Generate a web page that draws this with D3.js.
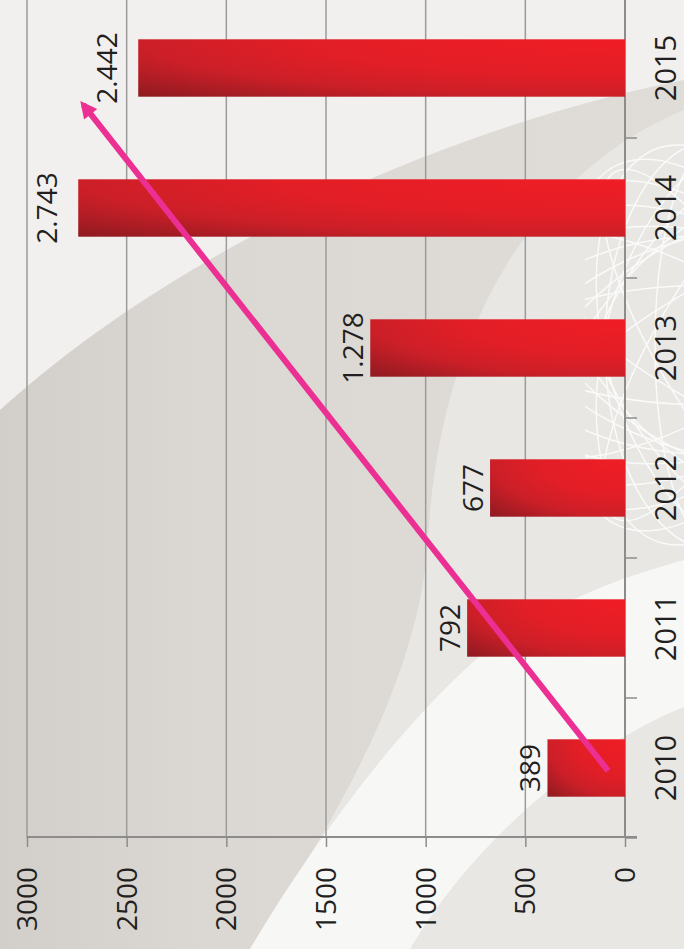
<!DOCTYPE html>
<html>
<head>
<meta charset="utf-8">
<script src="https://cdn.jsdelivr.net/npm/d3@7"></script>
<style>
  html, body { margin: 0; padding: 0; background: #e8e6e3; }
  svg { display: block; }
  text { font-family: "Open Sans", sans-serif; fill: #231f20; }
</style>
</head>
<body>
<div id="chart"></div>
<script>
// data
const years = ['2010', '2011', '2012', '2013', '2014', '2015'];
const values = [389, 792, 677, 1278, 2743, 2442];
const valueLabels = ['389', '792', '677', '1.278', '2.743', '2.442'];
const valueTicks = [0, 500, 1000, 1500, 2000, 2500, 3000];
// trend arrow in data units: [category position (0 = 2010), value]
const trendArrow = [[-0.02, 85], [4.736, 2717]];

const width = 684, height = 949;

const svg = d3.select('#chart').append('svg')
  .attr('width', width).attr('height', height);

const defs = svg.append('defs');

// bar gradient: bright top-right, dark bottom-left
const rg = defs.append('radialGradient')
  .attr('id', 'barGrad')
  .attr('cx', 1).attr('cy', 0).attr('r', 1.42)
  .attr('fx', 1).attr('fy', 0);
rg.append('stop').attr('offset', 0).attr('stop-color', '#f01d25');
rg.append('stop').attr('offset', 0.45).attr('stop-color', '#e21e26');
rg.append('stop').attr('offset', 0.7).attr('stop-color', '#cc1f28');
rg.append('stop').attr('offset', 1).attr('stop-color', '#8c1a20');

const lg = defs.append('linearGradient').attr('id', 'greyGrad')
  .attr('x1', 0).attr('y1', 0).attr('x2', 1).attr('y2', 0);
lg.append('stop').attr('offset', 0).attr('stop-color', '#d2cfcb');
lg.append('stop').attr('offset', 0.3).attr('stop-color', '#dbd8d4');
lg.append('stop').attr('offset', 1).attr('stop-color', '#e0ddd9');

defs.append('clipPath').attr('id', 'globeClip')
  .append('rect').attr('x', 585).attr('y', 130).attr('width', 100).attr('height', 450);

// background decoration
const bg = svg.append('g');
bg.append('rect').attr('width', width).attr('height', height).attr('fill', '#e8e7e4');
bg.append('path')
  .attr('d', 'M0,0 H684 V80 C480,120 200,230 0,410 Z')
  .attr('fill', '#f2f0ee');
bg.append('path')
  .attr('d', 'M0,410 C200,230 480,120 684,80 V110 C540,170 440,320 428,540 C420,680 330,830 250,949 H0 Z')
  .attr('fill', 'url(#greyGrad)');
bg.append('path')
  .attr('d', 'M250,949 C320,830 420,700 500,640 C570,595 630,575 684,560 V707 C600,740 480,830 410,949 Z')
  .attr('fill', '#f7f7f6');

const globe = bg.append('g').attr('clip-path', 'url(#globeClip)')
  .attr('fill', 'none').attr('stroke', '#ffffff').attr('stroke-width', 1.5).attr('opacity', 0.8);
d3.range(0, 180, 15).forEach(a => {
  globe.append('ellipse')
    .attr('cx', 715).attr('cy', 345).attr('rx', 110).attr('ry', 205)
    .attr('transform', `rotate(${a - 90},715,345)`);
});
d3.range(0, 180, 30).forEach(a => {
  globe.append('ellipse')
    .attr('cx', 715).attr('cy', 345).attr('rx', 60).attr('ry', 200)
    .attr('transform', `rotate(${a},715,345)`);
});

// scales
const x = d3.scaleLinear().domain([0, 3000]).range([625, 27]);
const y = d3.scaleBand().domain(years.slice().reverse())
  .range([-2, 838]).paddingInner(0.59).paddingOuter(0.295);
const yPos = d3.scaleLinear().domain([0, 5])
  .range([y('2010') + y.bandwidth() / 2, y('2015') + y.bandwidth() / 2]);

const data = years.map((yr, i) => ({ year: yr, value: values[i], label: valueLabels[i] }));

// gridlines
svg.append('g')
  .selectAll('line')
  .data(valueTicks.filter(d => d > 0))
  .join('line')
  .attr('x1', d => x(d)).attr('x2', d => x(d))
  .attr('y1', -2).attr('y2', 838)
  .attr('stroke', '#9b9b9b').attr('stroke-width', 1.5);

// value axis (bottom)
const xAxis = svg.append('g')
  .attr('transform', 'translate(0,837)')
  .call(d3.axisBottom(x).tickValues(valueTicks).tickSize(10).tickFormat(''));
xAxis.select('.domain').attr('stroke', '#8c8c8c').attr('stroke-width', 2)
  .attr('d', `M${x(3000)},0 H${x(0) + 12}`);
xAxis.selectAll('.tick line').attr('stroke', '#8c8c8c').attr('stroke-width', 1.5);

svg.append('g').selectAll('text')
  .data(valueTicks)
  .join('text')
  .attr('transform', d => `translate(${x(d) + 10},867) rotate(-90)`)
  .attr('text-anchor', 'end')
  .attr('font-size', 28)
  .text(d => d);

// category axis (right side line at 0)
svg.append('line')
  .attr('x1', x(0)).attr('x2', x(0)).attr('y1', -2).attr('y2', 838)
  .attr('stroke', '#8c8c8c').attr('stroke-width', 2);
const step = y.step();
svg.append('g').selectAll('line')
  .data(years)
  .join('line')
  .attr('x1', x(0)).attr('x2', x(0) + 12)
  .attr('y1', d => y(d) - y.paddingOuter() * step + step)
  .attr('y2', d => y(d) - y.paddingOuter() * step + step)
  .attr('stroke', '#8c8c8c').attr('stroke-width', 1.5);

svg.append('g').selectAll('text')
  .data(years)
  .join('text')
  .attr('transform', d => `translate(676,${y(d) + y.bandwidth() / 2}) rotate(-90)`)
  .attr('text-anchor', 'middle')
  .attr('font-size', 29)
  .text(d => d);

// bars
svg.append('g').selectAll('rect')
  .data(data)
  .join('rect')
  .attr('x', d => x(d.value))
  .attr('y', d => y(d.year))
  .attr('width', d => x(0) - x(d.value))
  .attr('height', y.bandwidth())
  .attr('fill', 'url(#barGrad)');

// value labels (the two longest bars have their labels set further out)
svg.append('g').selectAll('text')
  .data(data)
  .join('text')
  .attr('transform', d => `translate(${x(d.value) - (d.value > 2000 ? 21 : 7)},${y(d.year) + y.bandwidth() / 2}) rotate(-90)`)
  .attr('text-anchor', 'middle')
  .attr('font-size', 28)
  .text(d => d.label);

// trend arrow
defs.append('marker')
  .attr('id', 'arrowHead')
  .attr('viewBox', '0 0 10 10')
  .attr('refX', 7).attr('refY', 5)
  .attr('markerWidth', 3.4).attr('markerHeight', 2.8)
  .attr('orient', 'auto')
  .attr('markerUnits', 'strokeWidth')
  .append('path').attr('d', 'M0,0 L10,5 L0,10 Z').attr('fill', '#ec2f93');

svg.append('path')
  .attr('d', d3.line().x(d => x(d[1])).y(d => yPos(d[0]))(trendArrow))
  .attr('fill', 'none')
  .attr('stroke', '#ec2f93')
  .attr('stroke-width', 6)
  .attr('marker-end', 'url(#arrowHead)');
</script>
</body>
</html>
